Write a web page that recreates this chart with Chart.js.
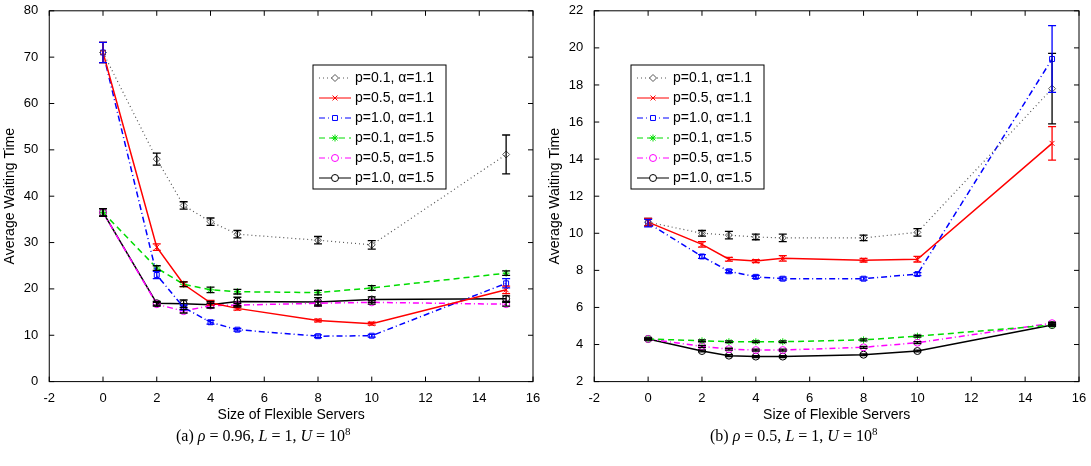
<!DOCTYPE html>
<html><head><meta charset="utf-8">
<script src="https://cdn.jsdelivr.net/npm/chart.js@4"></script>
<style>
body{margin:0;background:#fff;width:1091px;height:466px;position:relative;overflow:hidden}
.box{position:absolute;top:0;height:430px}
.cap{position:absolute;top:425px;font-family:"Liberation Serif",serif;font-size:16px}
.cap i{font-style:italic}
</style></head><body>
<div class="box" style="left:0;width:545px"><canvas id="c1"></canvas></div>
<div class="box" style="left:545px;width:546px"><canvas id="c2"></canvas></div>
<div class="cap" style="left:176px">(a) <i>ρ</i> = 0.96, <i>L</i> = 1, <i>U</i> = 10<sup style="font-size:11px">8</sup></div>
<div class="cap" style="left:710px">(b) <i>ρ</i> = 0.5, <i>L</i> = 1, <i>U</i> = 10<sup style="font-size:11px">8</sup></div>
<script>
const servers = [0, 2, 3, 4, 5, 8, 10, 15]
const labels = ['p=0.1, α=1.1', 'p=0.5, α=1.1', 'p=1.0, α=1.1', 'p=0.1, α=1.5', 'p=0.5, α=1.5', 'p=1.0, α=1.5']

const leftValues = [
  [71, 48, 38, 34.5, 31.8, 30.5, 29.5, 49],
  [71, 29, 21, 17, 15.8, 13.2, 12.5, 19.8],
  [71, 23, 16, 12.8, 11.2, 9.8, 9.9, 21.2],
  [36.5, 24.5, 21, 19.8, 19.4, 19.2, 20.2, 23.4],
  [36.5, 16.7, 15.2, 16.4, 16.5, 16.9, 17.1, 16.7],
  [36.5, 16.9, 16.8, 16.6, 17.3, 17.2, 17.7, 17.9]
]
const leftErrors = [
  [2.2, 1.3, 0.8, 0.8, 0.8, 0.8, 0.9, 4.2],
  [2.2, 0.7, 0.5, 0.5, 0.4, 0.3, 0.3, 0.8],
  [2.2, 0.8, 0.5, 0.4, 0.3, 0.3, 0.3, 1.0],
  [0.8, 0.5, 0.5, 0.6, 0.5, 0.5, 0.5, 0.5],
  [0.8, 0.4, 0.4, 0.5, 0.4, 0.4, 0.4, 0.4],
  [0.8, 0.4, 0.8, 0.7, 0.9, 0.9, 0.6, 0.6]
]
const rightValues = [
  [10.6, 10.0, 9.9, 9.8, 9.75, 9.75, 10.05, 17.8],
  [10.6, 9.4, 8.6, 8.5, 8.65, 8.55, 8.6, 14.85],
  [10.55, 8.75, 7.95, 7.65, 7.55, 7.55, 7.8, 19.4],
  [4.3, 4.2, 4.15, 4.15, 4.15, 4.25, 4.45, 5.05],
  [4.3, 3.9, 3.75, 3.7, 3.7, 3.85, 4.1, 5.15],
  [4.3, 3.65, 3.4, 3.35, 3.35, 3.45, 3.65, 5.05]
]
const rightErrors = [
  [0.2, 0.15, 0.2, 0.15, 0.2, 0.15, 0.2, 1.9],
  [0.2, 0.15, 0.1, 0.08, 0.15, 0.1, 0.15, 0.9],
  [0.2, 0.1, 0.08, 0.08, 0.08, 0.08, 0.08, 1.8],
  [0.05, 0.05, 0.05, 0.05, 0.05, 0.05, 0.05, 0.05],
  [0.05, 0.05, 0.05, 0.05, 0.05, 0.05, 0.05, 0.05],
  [0.05, 0.05, 0.05, 0.05, 0.05, 0.05, 0.05, 0.05]
]

const colors = ['#555', '#ff0000', '#0000ff', '#00dd00', '#ff00ff', '#000']
const dashes = [[1, 3], [], [6, 3, 1, 3], [6, 4], [6, 3, 1, 3], []]
const styles = ['rectRot', 'crossRot', 'rect', 'star', 'circle', 'circle']
const barColors = ['#000', '#ff0000', '#0000ff', '#000', '#000', '#000']

const framePlugin = {
  id: 'frame',
  afterDraw (chart, args, opts) {
    const { ctx, chartArea: a, scales } = chart
    ctx.save()
    // error bars
    chart.data.datasets.forEach((ds, i) => {
      ctx.strokeStyle = barColors[i]
      ctx.lineWidth = 1.3
      ds.data.forEach((p, j) => {
        const e = opts.errors[i][j]
        const x = scales.x.getPixelForValue(p.x)
        const y1 = scales.y.getPixelForValue(p.y - e)
        const y2 = scales.y.getPixelForValue(p.y + e)
        ctx.beginPath()
        ctx.moveTo(x, y1); ctx.lineTo(x, y2)
        ctx.moveTo(x - 4, y1); ctx.lineTo(x + 4, y1)
        ctx.moveTo(x - 4, y2); ctx.lineTo(x + 4, y2)
        ctx.stroke()
      })
    })
    ctx.strokeStyle = '#000'
    ctx.lineWidth = 1
    ctx.strokeRect(a.left, a.top, a.right - a.left, a.bottom - a.top)
    scales.x.ticks.forEach(t => {
      const x = scales.x.getPixelForValue(t.value)
      ctx.beginPath()
      ctx.moveTo(x, a.bottom); ctx.lineTo(x, a.bottom - 5)
      ctx.moveTo(x, a.top); ctx.lineTo(x, a.top + 5)
      ctx.stroke()
    })
    scales.y.ticks.forEach(t => {
      const y = scales.y.getPixelForValue(t.value)
      ctx.beginPath()
      ctx.moveTo(a.left, y); ctx.lineTo(a.left + 5, y)
      ctx.moveTo(a.right, y); ctx.lineTo(a.right - 5, y)
      ctx.stroke()
    })
    // legend
    const L = opts.legend
    ctx.fillStyle = '#fff'
    ctx.fillRect(L.x, L.y, L.w, 124)
    ctx.strokeRect(L.x, L.y, L.w, 124)
    ctx.font = '14px "Liberation Sans", Arial, sans-serif'
    ctx.textBaseline = 'middle'
    labels.forEach((lab, i) => {
      const y = L.y + 13 + i * 20
      ctx.strokeStyle = colors[i]
      ctx.setLineDash(dashes[i])
      ctx.beginPath(); ctx.moveTo(L.x + 6, y); ctx.lineTo(L.x + 38, y); ctx.stroke()
      ctx.setLineDash([])
      ctx.fillStyle = '#fff'
      Chart.helpers.drawPoint(ctx, { pointStyle: styles[i], radius: 3.5, borderWidth: 1 }, L.x + 22, y)
      ctx.fillStyle = '#000'
      ctx.fillText(lab, L.x + 42, y)
    })
    ctx.restore()
  }
}

function makeChart (id, values, errors, yMin, yMax, yStep, legend) {
  const datasets = values.map((vals, i) => ({
    label: labels[i],
    data: vals.map((v, j) => ({ x: servers[j], y: v })),
    borderColor: colors[i],
    backgroundColor: 'transparent',
    borderDash: dashes[i],
    borderWidth: i === 0 ? 1.2 : 1.5,
    pointStyle: styles[i],
    pointRadius: 3.5,
    pointBorderWidth: 1,
    pointBorderColor: colors[i],
    tension: 0
  }))
  return new Chart(document.getElementById(id), {
    type: 'line',
    data: { datasets },
    plugins: [framePlugin],
    options: {
      responsive: false,
      animation: false,
      layout: { padding: { left: 0, right: 12, top: 2, bottom: 6 } },
      plugins: { legend: { display: false }, tooltip: { enabled: false }, frame: { errors, legend } },
      scales: {
        x: {
          type: 'linear', min: -2, max: 16,
          ticks: { stepSize: 2, color: '#000', font: { size: 13 }, padding: 1 },
          grid: { display: false },
          border: { display: false },
          title: { display: true, text: 'Size of Flexible Servers', color: '#000', font: { size: 14 }, padding: 0 }
        },
        y: {
          min: yMin, max: yMax,
          ticks: { stepSize: yStep, color: '#000', font: { size: 13 } },
          grid: { display: false },
          border: { display: false },
          title: { display: true, text: 'Average Waiting Time', color: '#000', font: { size: 14 }, padding: 2 }
        }
      }
    }
  })
}

Chart.defaults.font.family = '"Liberation Sans", Arial, sans-serif'
const c1 = document.getElementById('c1'); c1.width = 545; c1.height = 430
const c2 = document.getElementById('c2'); c2.width = 546; c2.height = 430
makeChart('c1', leftValues, leftErrors, 0, 80, 10, { x: 313, y: 65, w: 133 })
makeChart('c2', rightValues, rightErrors, 2, 22, 2, { x: 86, y: 65, w: 133 })
</script>
</body></html>
